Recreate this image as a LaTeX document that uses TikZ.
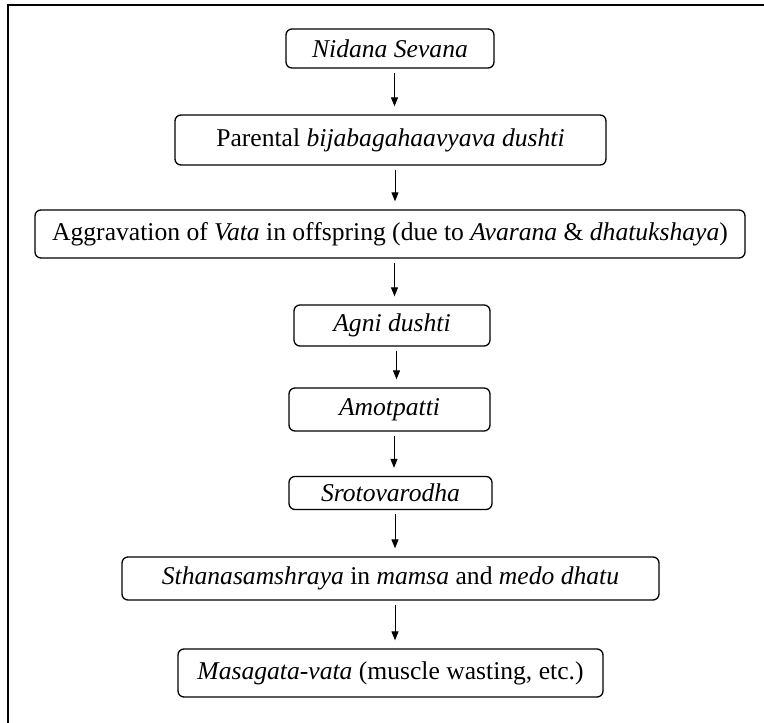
\documentclass[tikz,border=0pt]{standalone}
\usepackage{fontspec}
\setmainfont{Liberation Serif}
\usetikzlibrary{calc,arrows.meta}
\begin{document}
\begin{tikzpicture}[x=1pt,y=-1pt,
  stepbox/.style={draw,line width=1.3pt,rounded corners=6pt,inner sep=0pt,
    font=\fontsize{25.6}{28}\selectfont,anchor=center},
  arr/.style={line width=1pt,-{Triangle[length=9pt,width=7pt]}},
  frame/.style={line width=2pt}]
\useasboundingbox (0,0) rectangle (764,723);
\coordinate (f0) at (8,723);
\coordinate (f1) at (8,5);
\coordinate (f2) at (764,5);
\draw[frame] (f0) -- (f1) -- (f2);
\node[stepbox,minimum width=208pt,minimum height=39pt] (b1) at (390,48.5) {\textit{Nidana Sevana}};
\node[stepbox,minimum width=431pt,minimum height=50pt] (b2) at (390.5,140) {Parental \textit{bijabagahaavyava dushti}};
\node[stepbox,minimum width=710pt,minimum height=48pt] (b3) at (390,234) {Aggravation of \textit{Vata} in offspring (due to \textit{Avarana} \& \textit{dhatukshaya})};
\node[stepbox,minimum width=196pt,minimum height=41pt] (b4) at (392,325.5) {\textit{Agni dushti}};
\node[stepbox,minimum width=201pt,minimum height=43pt] (b5) at (389.5,409.5) {\textit{Amotpatti}};
\node[stepbox,minimum width=203pt,minimum height=33pt] (b6) at (390.5,493) {\textit{Srotovarodha}};
\node[stepbox,minimum width=537pt,minimum height=43pt] (b7) at (390.5,578.5) {\textit{Sthanasamshraya} in \textit{mamsa} and \textit{medo dhatu}};
\node[stepbox,minimum width=425pt,minimum height=48pt] (b8) at (390.5,673) {\textit{Masagata-vata} (muscle wasting, etc.)};
\foreach \a/\b in {b1/b2,b2/b3,b3/b4,b4/b5,b5/b6,b6/b7,b7/b8}{
  \draw[arr] ($(\a.south)+(4.5,4)$) -- ($(\b.north -| \a.south)+(4.5,-8)$);
}
\end{tikzpicture}
\end{document}
